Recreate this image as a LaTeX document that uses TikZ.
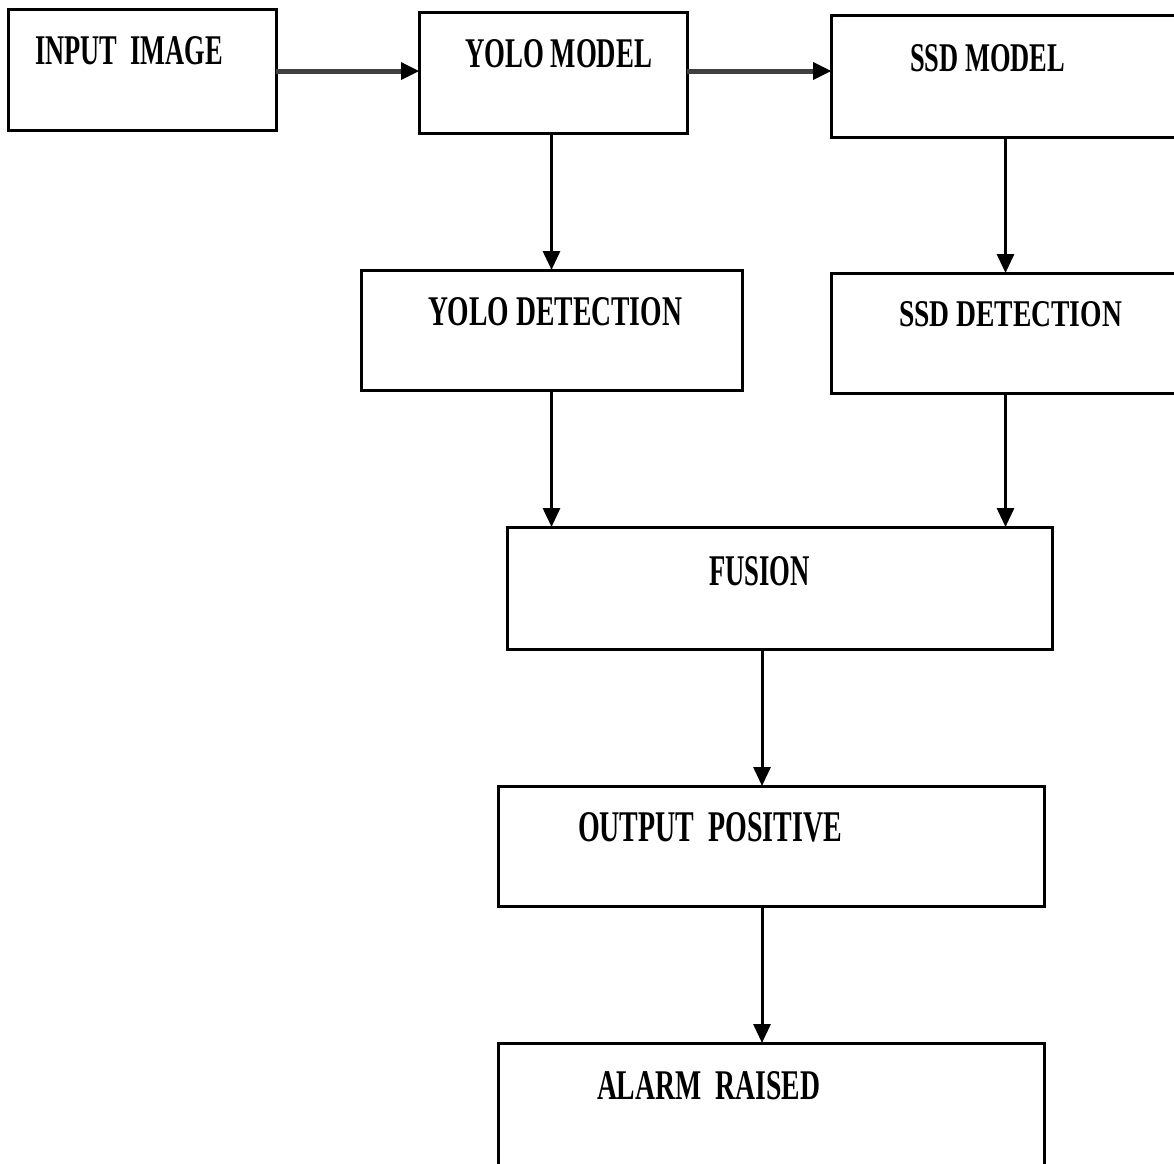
\documentclass[tikz,border=0pt]{standalone}
\usepackage{fontspec}
\setmainfont{Liberation Serif}
\usetikzlibrary{arrows.meta}
\newcommand\fitlbl[3]{\resizebox{#1pt}{#2pt}{\textbf{#3}}}
\begin{document}
\begin{tikzpicture}[x=1pt,y=-1pt,
  box/.style={draw=black,line width=3pt,fill=white,rectangle,inner sep=0pt,outer sep=0pt},
  lbl/.style={anchor=south west,inner sep=0pt,outer sep=0pt},
  arr/.style={draw=black,line width=3pt,-{Triangle[length=19pt,width=17pt]}},
  harr/.style={draw=black!75,line width=5pt,-{Triangle[length=18pt,width=18pt,color=black,line width=0pt]}}]
\clip (0,0) rectangle (1174,1163);
\fill[white] (0,0) rectangle (1174,1163);
% boxes
\node[box,minimum width=268pt,minimum height=121pt] (in) at (142,69.5) {};
\node[box,minimum width=268pt,minimum height=121pt] (ym) at (553,72.5) {};
\node[box,minimum width=349pt,minimum height=122pt] (sm) at (1005.5,76) {};
\node[box,minimum width=381pt,minimum height=120pt] (yd) at (551.5,330) {};
\node[box,minimum width=349pt,minimum height=120pt] (sd) at (1005.5,333) {};
\node[box,minimum width=545pt,minimum height=122pt] (fu) at (779.5,588) {};
\node[box,minimum width=546pt,minimum height=120pt] (op) at (771,846) {};
\node[box,minimum width=546pt,minimum height=127pt] (al) at (771,1106.5) {};
% labels
\node[lbl] (tin) at (35,65) {\fitlbl{188}{28}{INPUT\ \ IMAGE}};
\node[lbl] (tym) at (465,68) {\fitlbl{187}{28}{YOLO MODEL}};
\node[lbl] (tsm) at (910,72) {\fitlbl{155}{27}{SSD MODEL}};
\node[lbl] (tyd) at (428,326) {\fitlbl{254}{28}{YOLO DETECTION}};
\node[lbl] (tsd) at (899,327) {\fitlbl{223}{25}{SSD DETECTION}};
\node[lbl] (tfu) at (709,586) {\fitlbl{101}{29}{FUSION}};
\node[lbl] (top) at (578,842) {\fitlbl{264}{29}{OUTPUT\ \ POSITIVE}};
\node[lbl] (tal) at (597,1100) {\fitlbl{223}{28}{ALARM\ \ RAISED}};
% connectors
\coordinate (h1) at (0,71);
\coordinate (v1) at (762,0);
\draw[harr] (in.east |- h1) -- (ym.west |- h1);
\draw[harr] (ym.east |- h1) -- (sm.west |- h1);
\draw[arr] (yd.north |- ym.south) -- (yd.north);
\draw[arr] (sm.south) -- (sd.north);
\draw[arr] (yd.south) -- (yd.south |- fu.north);
\draw[arr] (sd.south) -- (sd.south |- fu.north);
\draw[arr] (fu.south -| v1) -- (op.north -| v1);
\draw[arr] (op.south -| v1) -- (al.north -| v1);
\end{tikzpicture}
\end{document}
